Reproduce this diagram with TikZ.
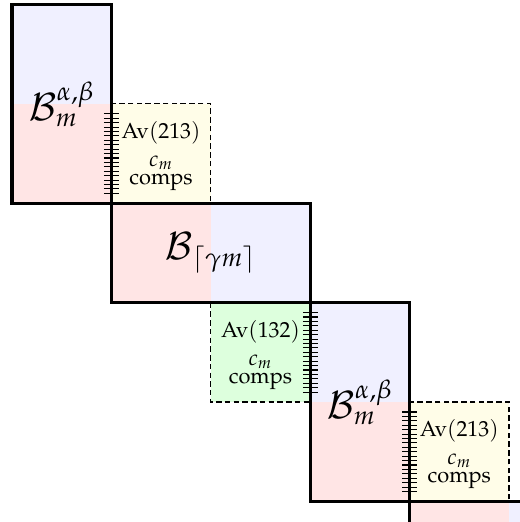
\documentclass[tikz,border=0pt]{standalone}
\usepackage[T1]{fontenc}
\usepackage{mathpazo}
\usepackage{tikz}
\usetikzlibrary{positioning}

\definecolor{topblue}{RGB}{240,240,255}
\definecolor{botpink}{RGB}{255,229,229}
\definecolor{avyellow}{RGB}{255,253,232}
\definecolor{avgreen}{RGB}{221,255,221}

\begin{document}
\begin{tikzpicture}[x=1.6cm,y=1.6cm,
  bigbox/.style={line width=1.5pt},
  avbox/.style={line width=0.5pt,dash pattern=on 2.5pt off 1.5pt},
  tick/.style={line width=0.5pt},
  blabel/.style={font=\LARGE},
  avlabel/.style={anchor=base,inner sep=0pt}]
\clip (-0.121,0.045) rectangle (5.110,-5.207);
% halves of the blocks
\fill[topblue] (0,0) rectangle (1,-1);
\fill[botpink] (0,-1) rectangle (1,-2);
\fill[botpink] (1,-2) rectangle (2,-3);
\fill[topblue] (2,-2) rectangle (3,-3);
\fill[topblue] (3,-3) rectangle (4,-4);
\fill[botpink] (3,-4) rectangle (4,-5);
\fill[botpink] (4,-5) rectangle (5,-6);
\fill[topblue] (5,-5) rectangle (6,-6);
% Av boxes
\filldraw[avbox,fill=avyellow] (1,-1) rectangle (2,-2);
\filldraw[avbox,fill=avgreen] (2,-3) rectangle (3,-4);
\filldraw[avbox,fill=avyellow] (4,-4) rectangle (5,-5);
% ticks
\foreach \x/\y in {1/1,3/3,4/4}
  \foreach \k in {0,...,18}
    \draw[tick] ({\x-0.075},{-\y-0.1-0.8*\k/18}) -- ({\x+0.075},{-\y-0.1-0.8*\k/18});
% block outlines
\draw[bigbox] (0,0) rectangle (1,-2);
\draw[bigbox] (1,-2) rectangle (3,-3);
\draw[bigbox] (3,-3) rectangle (4,-5);
\draw[bigbox] (4,-5) rectangle (6,-6);
% labels
\node[blabel] (b1) at (0.5,-1) {$\mathcal{B}_m^{\alpha,\beta}$};
\node[blabel] (b2) at (2,-2.5) {$\mathcal{B}_{\lceil\gamma m\rceil}$};
\node[blabel] (b3) at (3.5,-4) {$\mathcal{B}_m^{\alpha,\beta}$};
\foreach \x/\y/\p/\n in {1.5/1/213/1,2.5/3/132/2,4.5/4/213/3} {
  \node[avlabel] (av\n) at (\x,-\y-0.35) {Av$(\p)$};
  \node[avlabel] (cm\n) at (\x,-\y-0.63) {$c_m$};
  \node[avlabel] (comps\n) at (\x,-\y-0.81) {comps};
}
\end{tikzpicture}
\end{document}
